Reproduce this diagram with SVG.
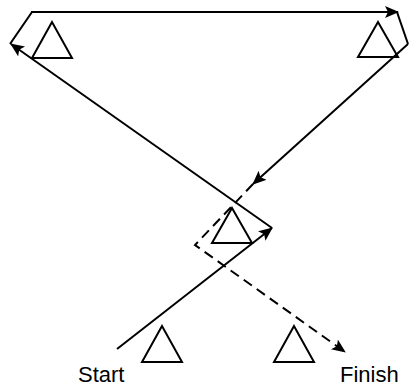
<svg xmlns="http://www.w3.org/2000/svg" width="409" height="387" viewBox="0 0 409 387">
<style>
.tri{fill:none;stroke:#000;stroke-width:2;stroke-linejoin:miter}
.ln{fill:none;stroke:#000;stroke-width:2}
.dash{stroke-dasharray:10,6}
.lbl{font-family:"Liberation Sans",Arial,sans-serif;font-size:22px;fill:#000}
</style>
<defs>
<marker id="ah" markerUnits="userSpaceOnUse" markerWidth="16" markerHeight="14" refX="13" refY="6" orient="auto">
<path d="M0,0 L14,6 L0,12 L3,6 z" fill="#000"/>
</marker>
</defs>
<rect width="409" height="387" fill="#fff"/>
<g id="cone-top-left"><polygon class="tri" points="52,22 32,58 72,58"/></g>
<g id="cone-top-right"><polygon class="tri" points="378,22 358,57 398,57"/></g>
<g id="cone-center"><polygon class="tri" points="232,208 212,243 252,243"/></g>
<g id="cone-bottom-left"><polygon class="tri" points="162,326 142,362 182,362"/></g>
<g id="cone-bottom-right"><polygon class="tri" points="294,326 274,362 314,362"/></g>
<g id="connectors">
<line class="ln" x1="117" y1="349" x2="272" y2="228" marker-end="url(#ah)"/>
<line class="ln" x1="272" y1="228" x2="11" y2="44" marker-end="url(#ah)"/>
<line class="ln" x1="10" y1="44" x2="32" y2="12"/>
<line class="ln" x1="31" y1="12" x2="398" y2="12" marker-end="url(#ah)"/>
<line class="ln" x1="397" y1="12" x2="408" y2="44"/>
<line class="ln" x1="408" y1="44" x2="253" y2="184" marker-end="url(#ah)"/>
<polyline class="ln dash" points="253,184 195,245 345,352" marker-end="url(#ah)"/>
</g>
<g id="label-start"><text class="lbl" x="78" y="382">Start</text></g>
<g id="label-finish"><text class="lbl" x="340" y="382">Finish</text></g>
</svg>
